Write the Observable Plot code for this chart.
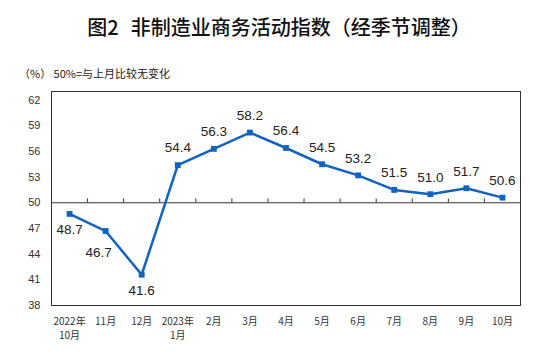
<!DOCTYPE html>
<html>
<head>
<meta charset="utf-8">
<script src="https://cdn.jsdelivr.net/npm/d3@7"></script>
<script src="https://cdn.jsdelivr.net/npm/@observablehq/plot@0.6"></script>
<style>
  body { margin: 0; background: #fff; }
  #wrap { position: relative; width: 550px; height: 356px; overflow: hidden; background: #fff; }
  #title { position: absolute; top: 17px; left: 4px; width: 550px; text-align: center; line-height: 1;
    font-family: "Noto Sans CJK SC", sans-serif; font-weight: 500; font-size: 20px; color: #111; }
  #title .gap { display: inline-block; width: 12px; }
  #sub { position: absolute; left: 19px; top: 68px; font-family: "Noto Sans CJK SC", sans-serif;
    font-size: 11px; color: #222; line-height: 1; }
  #chart { position: absolute; left: 0; top: 0; }
</style>
</head>
<body>
<div id="wrap">
  <div id="chart"></div>
  <div id="title">图2<span class="gap"></span>非制造业商务活动指数（经季节调整）</div>
  <div id="sub">（%）&nbsp;50%=与上月比较无变化</div>
</div>
<script>
const months = ["2022年\n10月", "11月", "12月", "2023年\n1月", "2月", "3月", "4月", "5月", "6月", "7月", "8月", "9月", "10月"];
const values = [48.7, 46.7, 41.6, 54.4, 56.3, 58.2, 56.4, 54.5, 53.2, 51.5, 51.0, 51.7, 50.6];
const yTicks = [38, 41, 44, 47, 50, 53, 56, 59, 62];

const data = months.map((m, i) => ({i, m, v: values[i]}));
const boundaries = months.slice(1).map((_, i) => i + 0.5);
const blue = "#1262c0";

const chart = Plot.plot({
  width: 550,
  height: 356,
  marginTop: 91,
  marginBottom: 51,
  marginLeft: 51,
  marginRight: 30,
  style: {fontFamily: "'Liberation Sans', Arial, sans-serif", background: "transparent"},
  x: {type: "linear", domain: [-0.5, months.length - 0.5]},
  y: {domain: [38, 63]},
  marks: [
    Plot.axisY({ticks: yTicks, tickSize: 0, tickPadding: 11, fontSize: 11, fill: "#333", label: null}),
    Plot.axisX({ticks: months.map((_, i) => i), tickFormat: i => months[i], tickSize: 0, tickPadding: 9,
      fontSize: 10, lineHeight: 1.45, fill: "#333", label: null,
      fontFamily: "'Noto Sans CJK SC', sans-serif"}),
    Plot.frame({stroke: "#333", strokeWidth: 1}),
    Plot.ruleY([50], {stroke: "#333", strokeWidth: 1}),
    Plot.ruleX(boundaries, {x: d => d, y1: 50, y2: 50.45, stroke: "#333", strokeWidth: 1}),
    Plot.line(data, {x: "i", y: "v", stroke: blue, strokeWidth: 2.5}),
    Plot.dot(data, {x: "i", y: "v", symbol: "square", r: 3.3, fill: blue, stroke: null}),
    Plot.text(data.filter(d => d.v >= 50), {x: "i", y: "v", text: d => d.v.toFixed(1), dy: -17,
      fontSize: 13.5, fill: "#222"}),
    Plot.text(data.filter(d => d.v < 50 && d.i !== 1), {x: "i", y: "v", text: d => d.v.toFixed(1), dy: 16,
      fontSize: 13.5, fill: "#222"}),
    Plot.text(data.filter(d => d.i === 1), {x: "i", y: "v", text: d => d.v.toFixed(1), dy: 22, dx: -7,
      fontSize: 13.5, fill: "#222"})
  ]
});
document.getElementById("chart").appendChild(chart);
</script>
</body>
</html>
